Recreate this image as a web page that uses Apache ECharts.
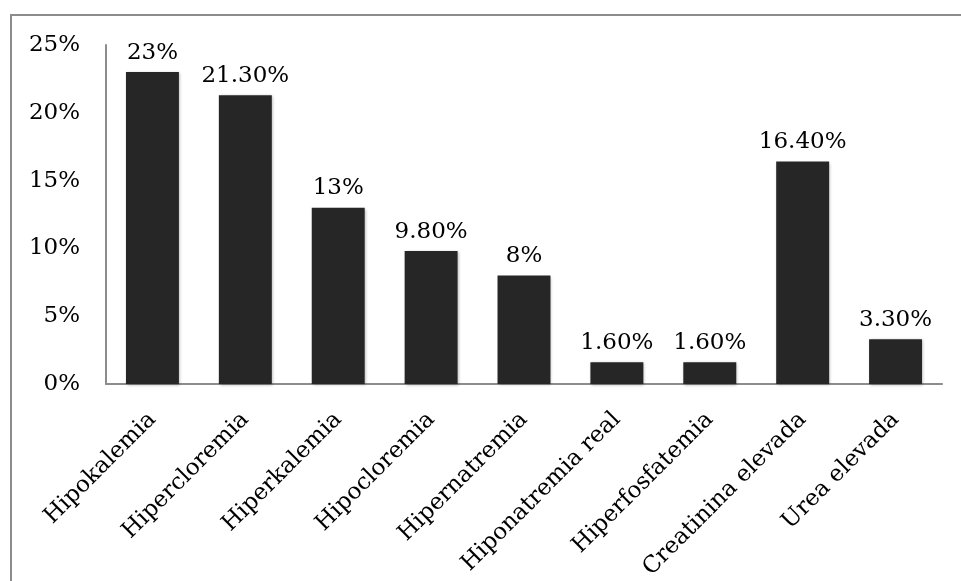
<!DOCTYPE html>
<html>
<head>
<meta charset="utf-8">
<script src="https://cdn.jsdelivr.net/npm/echarts@6/dist/echarts.min.js"></script>
<style>
  html, body { margin: 0; padding: 0; background: #fff; }
  #chart { width: 961px; height: 581px; }
</style>
</head>
<body>
<div id="chart"></div>
<script>
// Alteraciones hidroelectrolíticas y de función renal (%)
const categories = [
  'Hipokalemia', 'Hipercloremia', 'Hiperkalemia', 'Hipocloremia', 'Hipernatremia',
  'Hiponatremia real', 'Hiperfosfatemia', 'Creatinina elevada', 'Urea elevada'
];
const percentages = [23, 21.3, 13, 9.8, 8, 1.6, 1.6, 16.4, 3.3];
const yTicks = { min: 0, max: 25, interval: 5 };

const FONT = 'DejaVu Serif';
const FONT_SIZE = 23;
const fmtPct = v => (Number.isInteger(v) ? v : v.toFixed(2)) + '%';

const chart = echarts.init(document.getElementById('chart'), null, { renderer: 'canvas' });
chart.setOption({
  backgroundColor: '#fff',
  animation: false,
  graphic: [{
    type: 'rect',
    shape: { x: 11, y: 15, width: 1000, height: 1000 },
    style: { fill: 'none', stroke: '#8c8c8c', lineWidth: 2 },
    silent: true
  }],
  grid: {
    left: 106, right: 19, top: 45, bottom: 197,
    containLabel: false,
    outerBoundsMode: 'none'
  },
  xAxis: {
    type: 'category',
    data: categories,
    axisLine: { show: true, lineStyle: { color: '#8c8c8c', width: 2 } },
    axisTick: { show: false },
    axisLabel: {
      rotate: 45,
      interval: 0,
      margin: 32,
      fontFamily: FONT,
      fontSize: FONT_SIZE,
      color: '#000'
    }
  },
  yAxis: {
    type: 'value',
    min: yTicks.min,
    max: yTicks.max,
    interval: yTicks.interval,
    axisLine: { show: true, lineStyle: { color: '#8c8c8c', width: 2 } },
    axisTick: { show: false },
    splitLine: { show: false },
    axisLabel: {
      formatter: v => v + '%',
      margin: 26,
      fontFamily: FONT,
      fontSize: FONT_SIZE,
      color: '#000'
    }
  },
  series: [{
    type: 'bar',
    data: percentages,
    barWidth: '57%',
    itemStyle: {
      color: '#262626',
      shadowBlur: 3,
      shadowColor: 'rgba(0,0,0,0.3)',
      shadowOffsetX: 1,
      shadowOffsetY: 1
    },
    label: {
      show: true,
      position: 'top',
      distance: 8,
      formatter: p => fmtPct(p.value),
      fontFamily: FONT,
      fontSize: FONT_SIZE,
      color: '#000'
    }
  }]
});
</script>
</body>
</html>
